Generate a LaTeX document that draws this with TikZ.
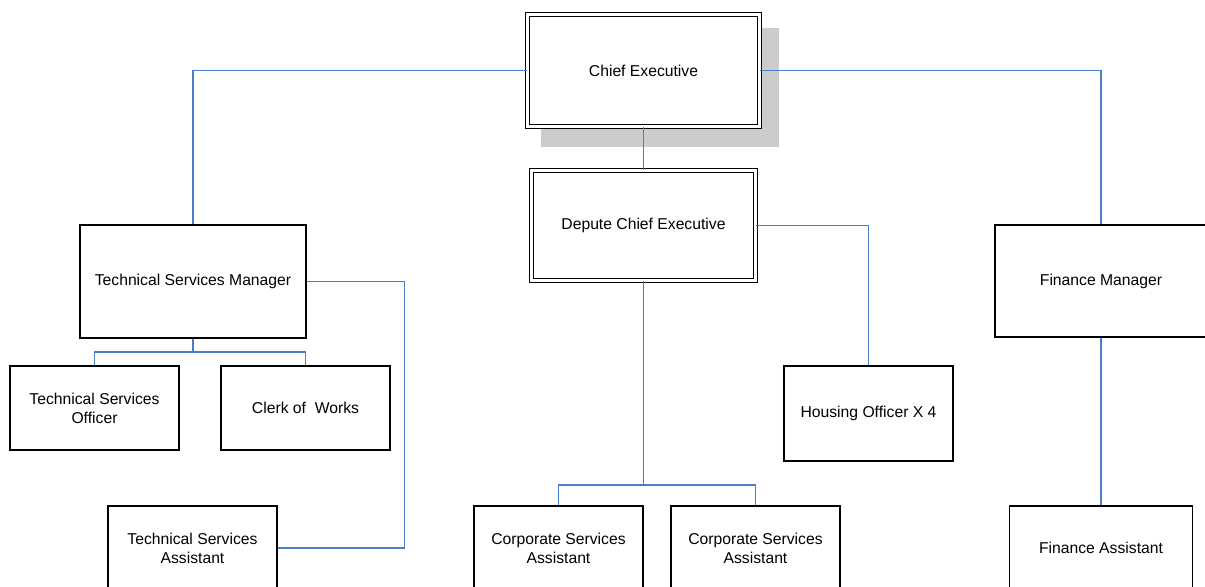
\documentclass[tikz,border=0pt]{standalone}
\usepackage{fontspec}
\setmainfont{Liberation Sans}
\usepackage{xcolor}
\usepackage{tikz}
\definecolor{linkblue}{RGB}{74,126,200}
\definecolor{shadowgray}{RGB}{204,204,204}

\begin{document}
\begin{tikzpicture}[
    x=0.5pt, y=-0.5pt,
    font=\fontsize{7.85}{9.5}\selectfont,
    box/.style={draw, line width=0.6pt, fill=white, align=center, inner sep=0pt},
    lead/.style={box, double=white, double distance=1.4pt},
    link/.style={draw=linkblue, line width=0.6pt},
    ]
\clip (0,0) rectangle (1205,587);

% shadow behind the top post
\fill[shadowgray] (541,28) rectangle (779,147);

\node[lead, minimum width=116pt, minimum height=56pt] (ce) at (643.5,70.5) {Chief Executive};
\node[lead, minimum width=112pt, minimum height=55pt] (dce) at (643.5,225.5) {Depute Chief Executive};

\node[box, minimum width=113pt, minimum height=56.5pt] (tsm) at (193,281.5) {Technical Services Manager};
\node[box, minimum width=84.5pt, minimum height=42pt] (tso) at (94.5,408) {Technical Services\\Officer};
\node[box, minimum width=84.5pt, minimum height=42pt] (cow) at (305.5,408) {Clerk of\ \ Works};
\node[box, minimum width=84.5pt, minimum height=42pt] (tsa) at (192.5,548) {Technical Services\\Assistant};

\node[box, minimum width=84.5pt, minimum height=47.5pt] (ho) at (868.5,413.5) {Housing Officer X 4};
\node[box, minimum width=84.5pt, minimum height=42pt] (csa1) at (558.5,548) {Corporate Services\\Assistant};
\node[box, minimum width=84.5pt, minimum height=42pt] (csa2) at (755.5,548) {Corporate Services\\Assistant};

\node[box, minimum width=106pt, minimum height=56pt] (fm) at (1101,281) {Finance Manager};
\node[box, minimum width=91.5pt, minimum height=42pt] (fa) at (1101,548) {Finance Assistant};

\coordinate (tsj) at (193,352);
\coordinate (csj) at (643.5,485);

\draw[link] (ce.west) -| (tsm.north);
\draw[link] (ce.east) -| (fm.north);
\draw[link] (ce.south) -- (dce.north);

\draw[link] (tsm.south) -- (tsj);
\draw[link] (tsj) -| (tso.north);
\draw[link] (tsj) -| (cow.north);
\draw[link] (tsm.east) -- ++(98,0) |- (tsa.east);

\draw[link] (dce.south) -- (csj);
\draw[link] (csj) -| (csa1.north);
\draw[link] (csj) -| (csa2.north);
\draw[link] (dce.east) -| (ho.north);

\draw[link] (fm.south) -- (fa.north);
\end{tikzpicture}
\end{document}
